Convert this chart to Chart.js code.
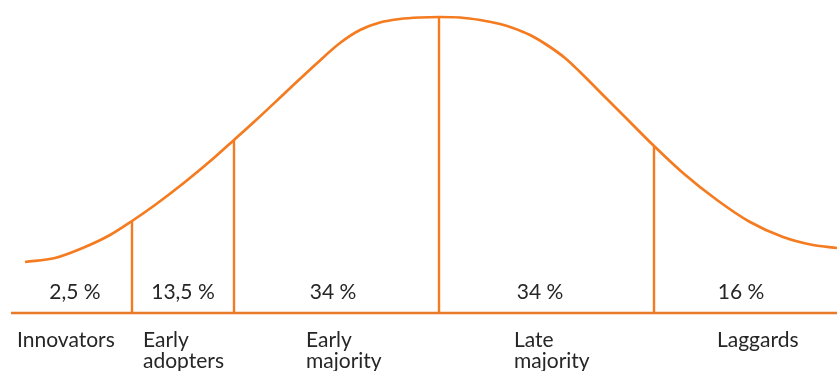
<!DOCTYPE html>
<html>
<head>
<meta charset="utf-8">
<script src="https://cdn.jsdelivr.net/npm/chart.js@4/dist/chart.umd.min.js"></script>
<style>
html,body{margin:0;padding:0;background:#fff;}
#wrap{width:837px;height:371px;}
</style>
</head>
<body>
<div id="wrap"><canvas id="c" width="837" height="371"></canvas></div>
<script>
// Adoption curve (x position along axis, height above baseline)
const curveX = [25, 55, 85, 110, 132, 155, 185, 215, 234, 255, 285, 315, 340, 360, 380, 400, 420, 439, 460, 480, 500, 513, 530, 547, 565, 580, 607, 630, 653, 683, 717, 750, 783, 813, 837];
const curveY = [51, 55, 66, 78, 92, 108, 131, 156, 173, 192, 220, 248, 270, 283, 290.5, 294, 295.5, 296, 295.5, 293, 289, 285, 278, 268, 255, 241, 214, 191, 168, 140, 113, 91, 76, 68, 65];

// Segment dividers and their heights
const dividerX = [132, 234, 439, 654];
const dividerY = [92, 173, 296, 167];

// Baseline extent
const axisStart = 11;
const axisEnd = 837;

// Segment labels
const shares = ["2,5 %", "13,5 %", "34 %", "34 %", "16 %"];
const categories = [["Innovators"], ["Early", "adopters"], ["Early", "majority"], ["Late", "majority"], ["Laggards"]];

const ORANGE = "#F47B20";
const AXIS = "#E97A2A";

const datasets = [];
datasets.push({
  data: curveX.map((x, i) => ({x: x, y: curveY[i]})),
  borderColor: ORANGE,
  borderWidth: 2.7,
  pointRadius: 0,
  cubicInterpolationMode: "monotone",
  fill: false
});
dividerX.forEach((x, i) => {
  datasets.push({
    data: [{x: x, y: 0}, {x: x, y: dividerY[i]}],
    borderColor: ORANGE,
    borderWidth: 2.4,
    pointRadius: 0,
    fill: false
  });
});
datasets.push({
  data: [{x: axisStart, y: 0}, {x: axisEnd, y: 0}],
  borderColor: AXIS,
  borderWidth: 2.6,
  pointRadius: 0,
  fill: false
});

const labelPlugin = {
  id: "segLabels",
  afterDatasetsDraw(chart, args, opts) {
    const ctx = chart.ctx;
    const xs = chart.scales.x, ys = chart.scales.y;
    ctx.save();
    ctx.fillStyle = "#262626";
    ctx.font = opts.font;
    ctx.textBaseline = "alphabetic";
    ctx.textAlign = "center";
    shares.forEach((s, i) => {
      ctx.fillText(s, xs.getPixelForValue(opts.shareX[i]), ys.getPixelForValue(opts.shareY));
    });
    ctx.textAlign = "left";
    categories.forEach((lines, i) => {
      lines.forEach((ln, j) => {
        ctx.fillText(ln, xs.getPixelForValue(opts.catX[i]), ys.getPixelForValue(opts.catY) + j * opts.lineH);
      });
    });
    ctx.restore();
  }
};

new Chart(document.getElementById("c"), {
  type: "line",
  data: {datasets: datasets},
  options: {
    responsive: false,
    animation: false,
    layout: {padding: 0},
    plugins: {
      legend: {display: false},
      tooltip: {enabled: false},
      segLabels: {
        font: "21px Lato, 'Open Sans', sans-serif",
        shareX: [75, 183, 333, 540, 741],
        shareY: 14,
        catX: [17, 143, 306, 514, 717],
        catY: -34,
        lineH: 21
      }
    },
    scales: {
      x: {type: "linear", min: 0, max: 837, display: false},
      y: {type: "linear", min: -58, max: 313, display: false}
    }
  },
  plugins: [labelPlugin]
});
</script>
</body>
</html>
